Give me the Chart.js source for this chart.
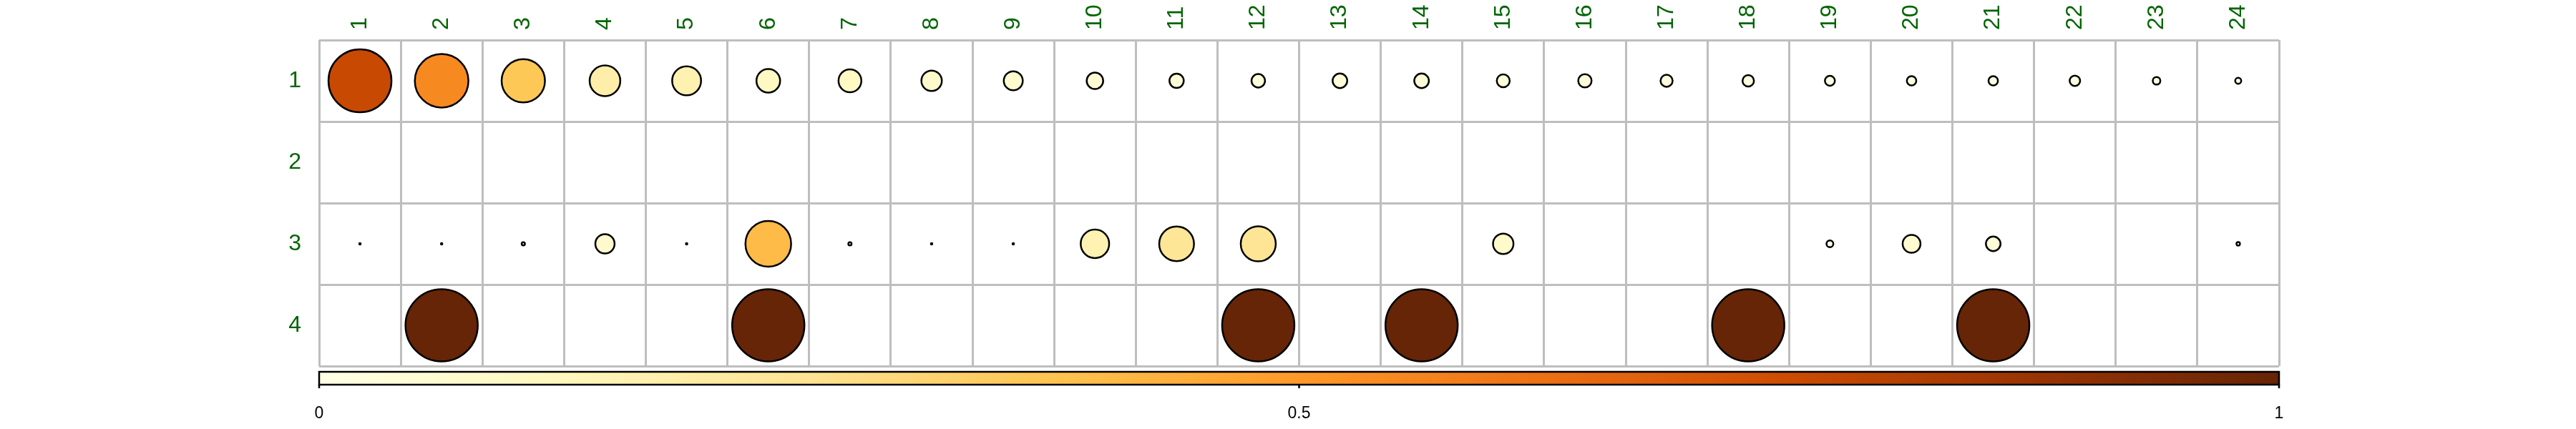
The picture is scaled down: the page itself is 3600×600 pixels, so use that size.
<!DOCTYPE html>
<html>
<head>
<meta charset="utf-8">
<title>Circle matrix</title>
<script src="https://cdn.jsdelivr.net/npm/chart.js@4.4.1/dist/chart.umd.min.js"></script>
<style>
  html, body { margin: 0; padding: 0; background: #fff; }
  #wrap { width: 3600px; height: 600px; }
</style>
</head>
<body>
<div id="wrap"><canvas id="matrix" width="3600" height="600"></canvas></div>
<script>
// categories
const colLabels = ['1', '2', '3', '4', '5', '6', '7', '8', '9', '10', '11', '12',
                   '13', '14', '15', '16', '17', '18', '19', '20', '21', '22', '23', '24'];
const rowLabels = ['1', '2', '3', '4'];

// cell values 0..1 (null = empty cell)
const rowOne = [0.76, 0.55, 0.36, 0.18, 0.16, 0.107, 0.10, 0.080, 0.069, 0.052, 0.039, 0.035,
                0.041, 0.041, 0.032, 0.034, 0.028, 0.025, 0.019, 0.017, 0.017, 0.021, 0.011, 0.007];
const rowTwo = [null, null, null, null, null, null, null, null, null, null, null, null,
                null, null, null, null, null, null, null, null, null, null, null, null];
const rowThree = [0.0004, 0.0004, 0.002, 0.071, 0.0004, 0.40, 0.002, 0.0004, 0.0004, 0.155, 0.232, 0.235,
                  null, null, 0.080, null, null, null, 0.009, 0.061, 0.041, null, null, 0.0023];
const rowFour = [null, 1, null, null, null, 1, null, null, null, null, null, 1,
                 null, 1, null, null, null, 1, null, null, 1, null, null, null];

// colour bar
const colorbarTicks = [0, 0.5, 1];
const ylOrBr = ['#ffffe5', '#fff7bc', '#fee391', '#fec44f', '#fe9929', '#ec7014', '#cc4c02', '#993404', '#662506'];

const labelGreen = '#006400';
const gridGray = '#bebebe';

// fixed layout: y axis strip on the left, empty margin on the right
const yAxisWidth = 446;
const rightPad = 415;
const cellSize = (3600 - yAxisWidth - rightPad) / colLabels.length;
const maxRadius = cellSize * 0.4425;   // circle for value 1

function hexToRgb(h) {
    return [parseInt(h.slice(1, 3), 16), parseInt(h.slice(3, 5), 16), parseInt(h.slice(5, 7), 16)];
}

function colorFor(v) {
    const pos = Math.min(Math.max(v, 0), 1) * (ylOrBr.length - 1);
    const i = Math.min(Math.floor(pos), ylOrBr.length - 2);
    const t = pos - i;
    const a = hexToRgb(ylOrBr[i]), b = hexToRgb(ylOrBr[i + 1]);
    const c = a.map((x, k) => Math.round(x + (b[k] - x) * t));
    return `rgb(${c[0]}, ${c[1]}, ${c[2]})`;
}

const points = [];
[rowOne, rowTwo, rowThree, rowFour].forEach((row, r) => {
    row.forEach((v, c) => {
        if (v !== null && v > 0) points.push({ x: colLabels[c], y: rowLabels[r], v: v });
    });
});

// gradient bar + tick marks, placed on the 'cb' scale
const colorbarPlugin = {
    id: 'colorbar',
    afterDraw(chart) {
        const s = chart.scales.cb;
        const ctx = chart.ctx;
        const x0 = s.getPixelForValue(0), x1 = s.getPixelForValue(1);
        const top = s.top + 8, h = 18;
        const grad = ctx.createLinearGradient(x0, 0, x1, 0);
        ylOrBr.forEach((c, i) => grad.addColorStop(i / (ylOrBr.length - 1), c));
        ctx.save();
        ctx.fillStyle = grad;
        ctx.fillRect(x0, top, x1 - x0, h);
        ctx.lineWidth = 2.5;
        ctx.strokeStyle = '#000';
        ctx.strokeRect(x0, top, x1 - x0, h);
        s.ticks.forEach(t => {
            const px = s.getPixelForValue(t.value);
            ctx.beginPath();
            ctx.moveTo(px, top + h);
            ctx.lineTo(px, top + h + 5);
            ctx.stroke();
        });
        ctx.restore();
    }
};

new Chart(document.getElementById('matrix'), {
    type: 'bubble',
    data: {
        datasets: [{
            data: points,
            xAxisID: 'x',
            yAxisID: 'y',
            backgroundColor: c => colorFor(c.raw ? c.raw.v : 0),
            borderColor: '#000',
            borderWidth: 2.5,
            // area follows the value
            radius: c => (c.raw ? maxRadius * Math.sqrt(c.raw.v) : 0),
            hoverRadius: 0,
            hoverBorderWidth: 2.5
        }]
    },
    options: {
        responsive: false,
        animation: false,
        events: [],
        layout: { padding: { left: 0, right: rightPad, top: 0, bottom: 0 } },
        plugins: { legend: { display: false }, tooltip: { enabled: false } },
        scales: {
            x: {
                type: 'category',
                position: 'top',
                labels: colLabels,
                offset: true,
                grid: { offset: true, color: gridGray, lineWidth: 3, drawTicks: false },
                border: { display: false },
                ticks: {
                    autoSkip: false, minRotation: 90, maxRotation: 90, padding: 14,
                    labelOffset: 38.4,   // rotated top labels sit one line-height left of the tick
                    color: labelGreen, font: { family: 'Liberation Sans', size: 32 }
                },
                afterFit: s => { s.height = 56; }
            },
            y: {
                type: 'category',
                position: 'left',
                labels: rowLabels,
                offset: true,
                grid: { offset: true, color: gridGray, lineWidth: 3, drawTicks: false },
                border: { display: false },
                ticks: {
                    autoSkip: false, padding: 25,
                    color: labelGreen, font: { family: 'Liberation Sans', size: 32 }
                },
                afterFit: s => { s.width = yAxisWidth; }
            },
            cb: {
                type: 'linear',
                axis: 'x',
                position: 'bottom',
                min: 0,
                max: 1,
                afterBuildTicks: s => { s.ticks = colorbarTicks.map(v => ({ value: v })); },
                grid: { display: false, drawTicks: false },
                border: { display: false },
                ticks: {
                    autoSkip: false, maxRotation: 0, padding: 53,
                    callback: v => String(v),
                    color: '#000', font: { family: 'Liberation Sans', size: 23 }
                },
                afterFit: s => { s.height = 88; }
            }
        }
    },
    plugins: [colorbarPlugin]
});
</script>
</body>
</html>
